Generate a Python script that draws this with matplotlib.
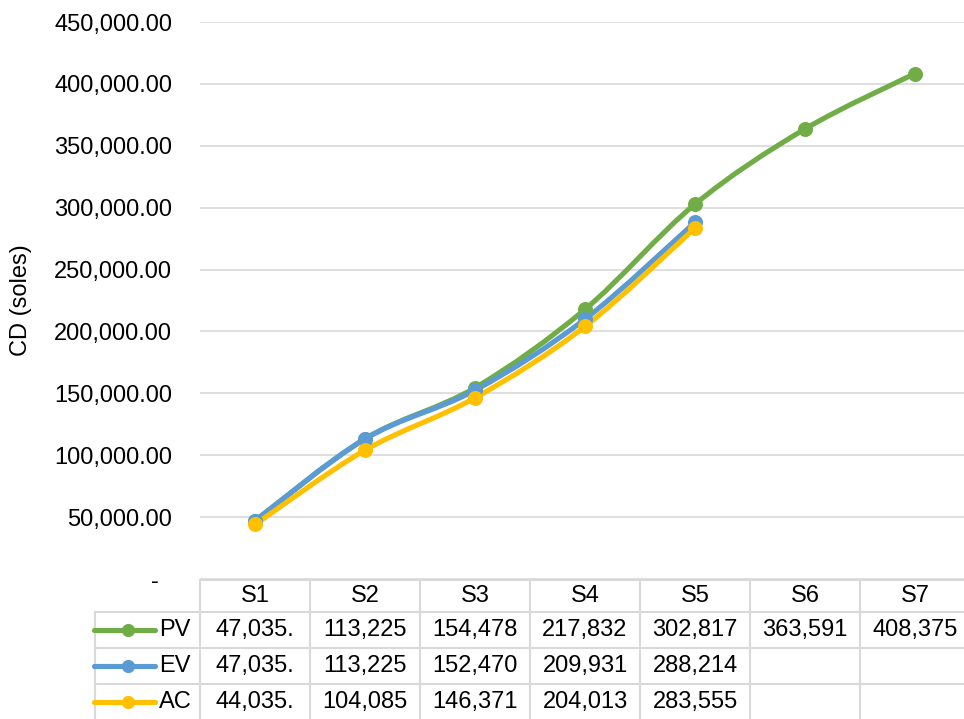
import numpy as np
import matplotlib.pyplot as plt
from matplotlib import transforms
from matplotlib.path import Path
from matplotlib.patches import PathPatch
from matplotlib.lines import Line2D

plt.rcParams['font.family'] = ['Liberation Sans', 'DejaVu Sans']
plt.rcParams['font.size'] = 17

# Curva S del proyecto (soles acumulados por semana)
categories = ['S1', 'S2', 'S3', 'S4', 'S5', 'S6', 'S7']
pv = [47035, 113225, 154478, 217832, 302817, 363591, 408375]
ev = [47035, 113225, 152470, 209931, 288214]
ac = [44035, 104085, 146371, 204013, 283555]
series_names = ['PV', 'EV', 'AC']
series_colors = ['#70AD47', '#5B9BD5', '#FFC000']

W, H = 964, 719
GRID = '#D9D9D9'


def smooth_path(xs, ys):
    # Bezier segments with Catmull-Rom style control points
    pts = np.column_stack([xs, ys]).astype(float)
    n = len(pts)
    verts = [pts[0]]
    codes = [Path.MOVETO]
    for i in range(n - 1):
        p0 = pts[max(i - 1, 0)]
        p1 = pts[i]
        p2 = pts[i + 1]
        p3 = pts[min(i + 2, n - 1)]
        c1 = p1 + (p2 - p0) / 6.0
        c2 = p2 - (p3 - p1) / 6.0
        verts += [c1, c2, p2]
        codes += [Path.CURVE4] * 3
    return Path(verts, codes)


fig = plt.figure(figsize=(W / 100, H / 100), dpi=100)
ax = fig.add_axes([200 / W, (H - 579) / H, 770 / W, 557 / H])

x = np.arange(len(categories))
for vals, name, col in zip([pv, ev, ac], series_names, series_colors):
    xs = x[:len(vals)]
    ax.add_patch(PathPatch(smooth_path(xs, vals), fill=False, edgecolor=col,
                           linewidth=3.7, capstyle='round', joinstyle='round'))
    ax.plot(xs, vals, linestyle='none', marker='o', markersize=10.8,
            color=col, markeredgewidth=0)

ax.set_xlim(-0.5, len(categories) - 0.5)
ax.set_ylim(0, 450000)
ax.set_yticks(np.arange(0, 450001, 50000))
ax.set_yticklabels(['-  ' if v == 0 else f'{v:,.2f}' for v in ax.get_yticks()])
ax.tick_params(axis='y', length=0, pad=20)
ax.set_xticks([])
for s in ax.spines.values():
    s.set_visible(False)
ax.grid(axis='y', color=GRID, linewidth=1.2)
ax.set_axisbelow(True)

fig.text(21 / W, 1 - 300 / H, 'CD (soles)', rotation=90, ha='center', va='center')

# data table under the plot
tr = transforms.blended_transform_factory(ax.transData, fig.transFigure)


def fy(py):
    return 1 - py / H


x_left = -1.455
x_right = len(categories) - 0.5
line_kw = dict(color=GRID, linewidth=1.5, transform=tr, clip_on=False)

fig.add_artist(Line2D([-0.5, x_right], [fy(580), fy(580)], **line_kw))
for py in [612, 648, 684]:
    fig.add_artist(Line2D([x_left, x_right], [fy(py), fy(py)], **line_kw))
fig.add_artist(Line2D([x_left, x_left], [fy(612), fy(720)], **line_kw))
for i in range(len(categories) + 1):
    fig.add_artist(Line2D([i - 0.5, i - 0.5], [fy(580), fy(720)], **line_kw))

for i, c in enumerate(categories):
    fig.text(i, fy(596), c, transform=tr, ha='center', va='center')

row_y = [630, 666, 702]
for vals, name, col, py in zip([pv, ev, ac], series_names, series_colors, row_y):
    fig.add_artist(Line2D([-1.46, -0.91], [fy(py), fy(py)], color=col,
                          linewidth=3.7, solid_capstyle='round', transform=tr))
    fig.add_artist(Line2D([-1.155], [fy(py)], marker='o', markersize=9.5,
                          color=col, markeredgewidth=0, transform=tr))
    fig.text(-0.87, fy(py), name, transform=tr, ha='left', va='center')
    for i, v in enumerate(vals):
        fig.text(i, fy(py), f'{v:,.2f}'[:7], transform=tr, ha='center', va='center')

fig.savefig('out.png', dpi=100, facecolor='white')
